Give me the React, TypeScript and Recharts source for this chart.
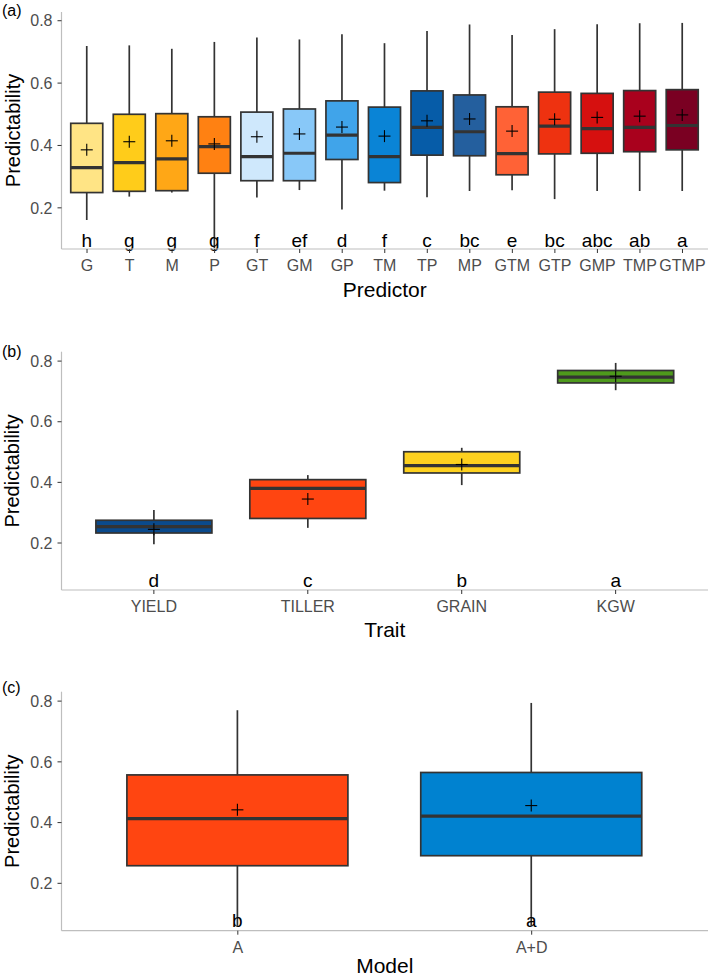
import React from "react";
import { ComposedChart, Bar, XAxis, YAxis, Label } from "recharts";

// panel (a): predictor combinations
const PREDICTORS = ["G", "T", "M", "P", "GT", "GM", "GP", "TM", "TP", "MP", "GTM", "GTP", "GMP", "TMP", "GTMP"];
const PRED_MIN = [0.161, 0.236, 0.249, 0.07, 0.233, 0.257, 0.195, 0.255, 0.234, 0.254, 0.256, 0.228, 0.254, 0.254, 0.254];
const PRED_Q1 = [0.249, 0.253, 0.255, 0.311, 0.287, 0.287, 0.355, 0.281, 0.369, 0.367, 0.306, 0.373, 0.375, 0.38, 0.386];
const PRED_MED = [0.329, 0.345, 0.357, 0.396, 0.364, 0.375, 0.433, 0.364, 0.458, 0.444, 0.374, 0.462, 0.454, 0.458, 0.464];
const PRED_Q3 = [0.471, 0.5, 0.502, 0.492, 0.507, 0.517, 0.543, 0.523, 0.575, 0.562, 0.524, 0.571, 0.567, 0.576, 0.579];
const PRED_MAX = [0.719, 0.721, 0.71, 0.732, 0.746, 0.74, 0.757, 0.728, 0.767, 0.788, 0.754, 0.773, 0.789, 0.792, 0.793];
const PRED_MEAN = [0.386, 0.412, 0.415, 0.405, 0.428, 0.437, 0.459, 0.43, 0.479, 0.485, 0.446, 0.484, 0.49, 0.494, 0.498];
const PRED_LETTERS = ["h", "g", "g", "g", "f", "ef", "d", "f", "c", "bc", "e", "bc", "abc", "ab", "a"];

// panel (b): traits
const TRAITS = ["YIELD", "TILLER", "GRAIN", "KGW"];
const TRAIT_MIN = [0.196, 0.25, 0.391, 0.704];
const TRAIT_Q1 = [0.233, 0.281, 0.431, 0.728];
const TRAIT_MED = [0.254, 0.38, 0.455, 0.747];
const TRAIT_Q3 = [0.275, 0.409, 0.501, 0.769];
const TRAIT_MAX = [0.309, 0.424, 0.514, 0.794];
const TRAIT_MEAN = [0.245, 0.345, 0.459, 0.75];
const TRAIT_LETTERS = ["d", "c", "b", "a"];

// panel (c): models
const MODELS = ["A", "A+D"];
const MODEL_MIN = [0.06, 0.06];
const MODEL_Q1 = [0.258, 0.291];
const MODEL_MED = [0.413, 0.421];
const MODEL_Q3 = [0.557, 0.565];
const MODEL_MAX = [0.77, 0.794];
const MODEL_MEAN = [0.442, 0.456];
const MODEL_LETTERS = ["b", "a"];

const Y_TICKS = [0.2, 0.4, 0.6, 0.8];

const PRED_COLORS = [
  "#FFE485", "#FFCC1A", "#FFA716", "#FF8112", "#CFE8FC", "#88C8F8", "#40A4EA", "#0A84D6",
  "#065CA8", "#245F9E", "#FF6236", "#EE3210", "#D6100F", "#A9011D", "#7A0022",
];
const TRAIT_COLORS = ["#0A4A8C", "#FF4511", "#FDD11F", "#4E9A1C"];
const MODEL_COLORS = ["#FF4511", "#0082D0"];

const FONT = "'Liberation Sans', Arial, sans-serif";
const DARK = "#333333";

function build(cats: string[], mn: number[], q1: number[], med: number[], q3: number[], mx: number[], mean: number[], letters: string[], colors: string[]) {
  return cats.map((c, i) => ({
    cat: c,
    range: [mn[i], mx[i]],
    min: mn[i], q1: q1[i], med: med[i], q3: q3[i], max: mx[i], mean: mean[i],
    letter: letters[i],
    color: colors[i],
  }));
}

function boxShape(letterY: number) {
  return (props: any) => {
    const { x, y, width, height, payload } = props;
    const top = height >= 0 ? y : y + height;
    const h = Math.abs(height);
    const lo = payload.min;
    const hi = payload.max;
    const py = (v: number) => top + ((hi - v) / (hi - lo)) * h;
    const cx = x + width / 2;
    const my = py(payload.mean);
    return (
      <g>
        <line x1={cx} x2={cx} y1={py(hi)} y2={py(lo)} stroke={DARK} strokeWidth={1.7} />
        <rect x={x} y={py(payload.q3)} width={width} height={py(payload.q1) - py(payload.q3)}
          fill={payload.color} stroke={DARK} strokeWidth={1.7} />
        <line x1={x} x2={x + width} y1={py(payload.med)} y2={py(payload.med)} stroke={DARK} strokeWidth={3.2} />
        <line x1={cx - 6} x2={cx + 6} y1={my} y2={my} stroke="#000" strokeWidth={1.1} />
        <line x1={cx} x2={cx} y1={my - 6} y2={my + 6} stroke="#000" strokeWidth={1.1} />
        <text x={cx} y={py(letterY)} textAnchor="middle" fontSize={19} fill="#000">{payload.letter}</text>
      </g>
    );
  };
}

interface PanelProps {
  data: any[];
  tag: string;
  tagY: number;
  title: string;
  height: number;
  marginTop: number;
  xAxisHeight: number;
  domain: [number, number];
  padding: number;
  barSize: number;
  letterY: number;
  titleOffset: number;
}

function Panel(p: PanelProps) {
  const plotMid = p.marginTop + (p.height - p.xAxisHeight - p.marginTop) / 2;
  return (
    <ComposedChart width={709} height={p.height} data={p.data}
      margin={{ top: p.marginTop, right: 1, bottom: 0, left: 11.5 }}>
      <XAxis dataKey="cat" type="category" height={p.xAxisHeight}
        padding={{ left: p.padding, right: p.padding }}
        axisLine={{ stroke: "#BEBEBE", strokeWidth: 1.2 }}
        tickLine={{ stroke: DARK, strokeWidth: 1 }} tickSize={4} tickMargin={7}
        tick={{ fontSize: 16, fill: "#4D4D4D" }} interval={0}>
        <Label content={() => (
          <text x={384.75} y={p.height - p.titleOffset} textAnchor="middle" fontSize={21} fill="#000">{p.title}</text>
        )} />
      </XAxis>
      <YAxis type="number" domain={p.domain} ticks={Y_TICKS} width={50}
        axisLine={{ stroke: "#BEBEBE", strokeWidth: 1.2 }}
        tickLine={{ stroke: DARK, strokeWidth: 1 }} tickSize={4} tickMargin={5}
        tick={{ fontSize: 16, fill: "#4D4D4D" }} tickFormatter={(v: number) => v.toFixed(1)}>
        <Label content={() => (
          <g>
            <text x={19.5} y={plotMid} transform={`rotate(-90, 19.5, ${plotMid})`} textAnchor="middle" fontSize={20} fill="#000">Predictability</text>
            <text x={2} y={p.tagY} fontSize={16} fill="#000">{p.tag}</text>
          </g>
        )} />
      </YAxis>
      <Bar dataKey="range" barSize={p.barSize} isAnimationActive={false} shape={boxShape(p.letterY)} />
    </ComposedChart>
  );
}

export default function App() {
  const predData = build(PREDICTORS, PRED_MIN, PRED_Q1, PRED_MED, PRED_Q3, PRED_MAX, PRED_MEAN, PRED_LETTERS, PRED_COLORS);
  const traitData = build(TRAITS, TRAIT_MIN, TRAIT_Q1, TRAIT_MED, TRAIT_Q3, TRAIT_MAX, TRAIT_MEAN, TRAIT_LETTERS, TRAIT_COLORS);
  const modelData = build(MODELS, MODEL_MIN, MODEL_Q1, MODEL_MED, MODEL_Q3, MODEL_MAX, MODEL_MEAN, MODEL_LETTERS, MODEL_COLORS);

  return (
    <div style={{ position: "absolute", left: 0, top: 0, width: 709, height: 977, background: "#fff", fontFamily: FONT, overflow: "hidden" }}>
      <div style={{ position: "absolute", left: 0, top: 0 }}>
        <Panel data={predData} tag="(a)" tagY={15.5} title="Predictor" height={300} marginTop={12}
          xAxisHeight={51} domain={[0.068, 0.828]} padding={4.25} barSize={32} letterY={0.0757} titleOffset={3.5} />
      </div>
      <div style={{ position: "absolute", left: 0, top: 300 }}>
        <Panel data={traitData} tag="(b)" tagY={57} title="Trait" height={340} marginTop={51.7}
          xAxisHeight={50} domain={[0.045, 0.831]} padding={15.4} barSize={116} letterY={0.054} titleOffset={3.5} />
      </div>
      <div style={{ position: "absolute", left: 0, top: 640 }}>
        <Panel data={modelData} tag="(c)" tagY={53} title="Model" height={337} marginTop={51.7}
          xAxisHeight={46.3} domain={[0.044, 0.831]} padding={29.4} barSize={221} letterY={0.0556} titleOffset={4} />
      </div>
    </div>
  );
}
